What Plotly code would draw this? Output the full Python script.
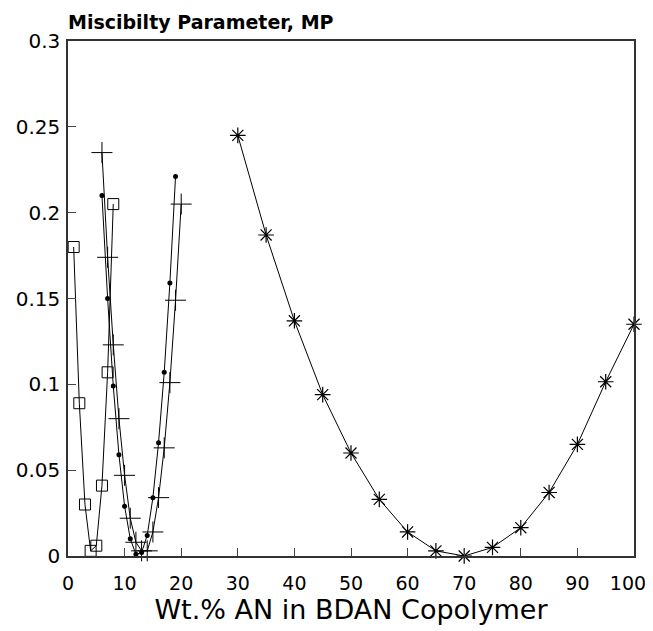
import plotly.graph_objects as go

# Data
sq_x = [1, 2, 3, 4, 5, 6, 7, 8]
sq_y = [0.180, 0.089, 0.030, 0.003, 0.006, 0.041, 0.107, 0.205]

dot_x = [6, 7, 8, 9, 10, 11, 12, 13, 14, 15, 16, 17, 18, 19]
dot_y = [0.210, 0.150, 0.099, 0.059, 0.029, 0.010, 0.001, 0.002, 0.012, 0.034, 0.066, 0.107, 0.159, 0.221]

cr_x = [6, 7, 8, 9, 10, 11, 12, 13, 14, 15, 16, 17, 18, 19, 20]
cr_y = [0.235, 0.174, 0.123, 0.080, 0.047, 0.022, 0.008, 0.003, 0.003, 0.014, 0.034, 0.063, 0.101, 0.149, 0.205]

st_x = [30, 35, 40, 45, 50, 55, 60, 65, 70, 75, 80, 85, 90, 95, 100]
st_y = [0.245, 0.187, 0.137, 0.094, 0.060, 0.033, 0.014, 0.003, 0.0, 0.005, 0.0165, 0.037, 0.065, 0.1015, 0.135]

x_ticks = [0, 10, 20, 30, 40, 50, 60, 70, 80, 90, 100]
x_tick_text = ["0", "10", "20", "30", "40", "50", "60", "70", "80", "90", "100\u00a0\u00a0"]
y_ticks = [0, 0.05, 0.1, 0.15, 0.2, 0.25, 0.3]
y_tick_text = ["0", "0.05", "0.1", "0.15", "0.2", "0.25", "0.3"]

FONT = "DejaVu Sans, Arial, sans-serif"

fig = go.Figure()
line = dict(color="black", width=1)
fig.add_trace(go.Scatter(x=sq_x, y=sq_y, mode="lines+markers", line=line, cliponaxis=False,
                         marker=dict(symbol="square-open", size=11, color="black", line=dict(width=1))))
fig.add_trace(go.Scatter(x=dot_x, y=dot_y, mode="lines+markers", line=line, cliponaxis=False,
                         marker=dict(symbol="circle", size=5, color="black")))
fig.add_trace(go.Scatter(x=cr_x, y=cr_y, mode="lines+markers", line=line, cliponaxis=False,
                         marker=dict(symbol="cross-thin-open", size=15, color="black", line=dict(width=1, color="black"))))
fig.add_trace(go.Scatter(x=st_x, y=st_y, mode="lines+markers", line=line, cliponaxis=False,
                         marker=dict(symbol="asterisk-open", size=13, color="black", line=dict(width=1.2, color="black"))))

# page body has an 8px margin, so the figure is 8px smaller and offset by 8px
fig.update_layout(
    width=645, height=623,
    margin=dict(l=60, r=19, t=33, b=75),
    paper_bgcolor="white", plot_bgcolor="white",
    showlegend=False,
    font=dict(family=FONT, color="black"),
    xaxis=dict(range=[0, 100], tickvals=x_ticks, ticktext=x_tick_text, ticks="inside", ticklen=8, tickcolor="#444",
               showline=True, linecolor="#333", linewidth=1.5, mirror=True, showgrid=False, zeroline=False,
               automargin=False, ticklabeloverflow="allow",
               tickfont=dict(size=19, family=FONT), ticklabelstandoff=9,
               title=dict(text="Wt.% AN in BDAN Copolymer", font=dict(size=27, family=FONT), standoff=6)),
    yaxis=dict(range=[0, 0.3], tickvals=y_ticks, ticktext=y_tick_text, ticks="inside", ticklen=8, tickcolor="#444",
               showline=True, linecolor="#333", linewidth=1.5, mirror=True, showgrid=False, zeroline=False,
               automargin=False, ticklabelstandoff=2, ticklabeloverflow="allow",
               tickfont=dict(size=20, family=FONT)),
    annotations=[dict(text="<b>Miscibilty Parameter, MP</b>", x=0, y=1, xref="paper", yref="paper",
                      xanchor="left", yanchor="bottom", yshift=6, xshift=-2, showarrow=False,
                      font=dict(size=19, family=FONT, color="black"))],
)

fig.write_html("out.html")
